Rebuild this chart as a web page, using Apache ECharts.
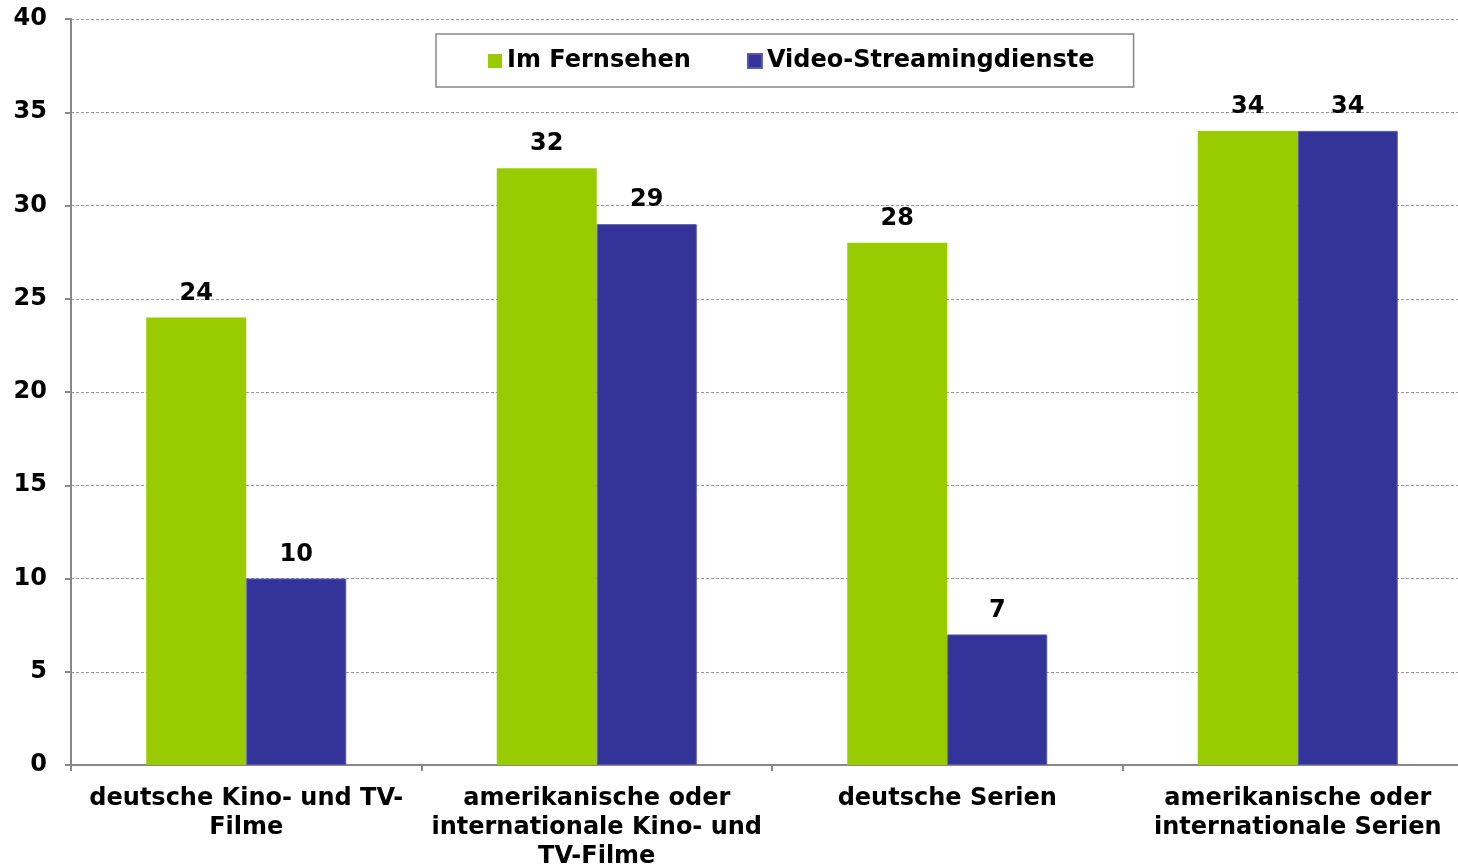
<!DOCTYPE html>
<html>
<head>
<meta charset="utf-8">
<script src="https://cdn.jsdelivr.net/npm/echarts@6/dist/echarts.min.js"></script>
<style>
  html, body { margin: 0; padding: 0; background: #fff; }
  #chart { width: 1458px; height: 866px; }
</style>
</head>
<body>
<div id="chart"></div>
<script>
const categories = [
  "deutsche Kino- und TV-\nFilme",
  "amerikanische oder\ninternationale Kino- und\nTV-Filme",
  "deutsche Serien",
  "amerikanische oder\ninternationale Serien"
];
const fernsehen = [24, 32, 28, 34];
const streaming = [10, 29, 7, 34];

const font = "DejaVu Sans, Verdana, sans-serif";
const chart = echarts.init(document.getElementById("chart"));

const valueLabel = {
  show: true,
  position: "top",
  distance: 12,
  color: "#000",
  fontFamily: font,
  fontWeight: "bold",
  fontSize: 24
};

chart.setOption({
  animation: false,
  grid: { left: 71, right: -15, top: 19, bottom: 101, outerBoundsMode: "none", containLabel: false },
  legend: {
    left: 436,
    top: 34,
    padding: [15, 39, 14, 52],
    itemWidth: 14,
    itemHeight: 14,
    itemGap: 56,
    borderColor: "#888",
    borderWidth: 1.5,
    icon: "rect",
    textStyle: { fontFamily: font, fontWeight: "bold", fontSize: 24, color: "#000" },
    data: ["Im Fernsehen", "Video-Streamingdienste"]
  },
  xAxis: {
    type: "category",
    data: categories,
    axisLine: { lineStyle: { color: "#888", width: 2 } },
    axisTick: { show: true, length: 6, lineStyle: { color: "#888", width: 2 } },
    axisLabel: {
      interval: 0,
      margin: 19,
      color: "#000",
      fontFamily: font,
      fontWeight: "bold",
      fontSize: 24,
      lineHeight: 29
    }
  },
  yAxis: {
    type: "value",
    min: 0,
    max: 40,
    interval: 5,
    axisLine: { show: true, lineStyle: { color: "#888", width: 2 } },
    axisTick: { show: true, length: 6, lineStyle: { color: "#888", width: 2 } },
    splitLine: { lineStyle: { color: "#999", type: [3, 2], width: 1 } },
    axisLabel: {
      margin: 24,
      color: "#000",
      fontFamily: font,
      fontWeight: "bold",
      fontSize: 24
    }
  },
  series: [
    {
      name: "Im Fernsehen",
      type: "bar",
      data: fernsehen,
      barWidth: 100,
      barGap: "0%",
      itemStyle: { color: "#99CC00" },
      label: valueLabel
    },
    {
      name: "Video-Streamingdienste",
      type: "bar",
      data: streaming,
      barWidth: 100,
      barGap: "0%",
      itemStyle: { color: "#333399", borderColor: "#5a5aa8", borderWidth: 1 },
      label: valueLabel
    }
  ]
});
</script>
</body>
</html>
